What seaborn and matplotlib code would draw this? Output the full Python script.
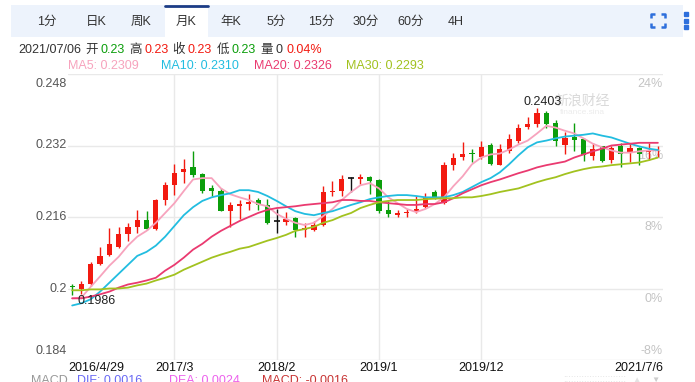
import matplotlib
matplotlib.use("Agg")
import matplotlib.pyplot as plt
from matplotlib.patches import Rectangle
import seaborn as sns
import pandas as pd

sns.set_style("white")
plt.rcParams['font.family'] = ['Liberation Sans', 'Noto Sans CJK SC', 'DejaVu Sans']

# monthly candles, 2016/4 .. 2021/7
opens = [0.2006, 0.2000, 0.2009, 0.2055, 0.2074, 0.2093, 0.2122, 0.2137, 0.2153, 0.2133,
         0.2198, 0.2231, 0.2260, 0.2273, 0.2256, 0.2224, 0.2218, 0.2174, 0.2184, 0.2190,
         0.2198, 0.2186, 0.2151, 0.2148, 0.2157, 0.2130, 0.2130, 0.2142, 0.2216, 0.2219,
         0.2248, 0.2245, 0.2250, 0.2242, 0.2176, 0.2164, 0.2168, 0.2172, 0.2182, 0.2215,
         0.2192, 0.2276, 0.2295, 0.2303, 0.2294, 0.2320, 0.2277, 0.2308, 0.2329, 0.2361,
         0.2368, 0.2393, 0.2370, 0.2322, 0.2340, 0.2335, 0.2296, 0.2318, 0.2287, 0.2318,
         0.2303, 0.2314, 0.2305, 0.2309]
highs = [0.2011, 0.2017, 0.2060, 0.2093, 0.2136, 0.2137, 0.2147, 0.2176, 0.2174, 0.2201,
         0.2239, 0.2278, 0.2290, 0.2307, 0.2259, 0.2232, 0.2224, 0.2193, 0.2198, 0.2211,
         0.2203, 0.2201, 0.2179, 0.2172, 0.2159, 0.2146, 0.2150, 0.2229, 0.2241, 0.2255,
         0.2249, 0.2256, 0.2252, 0.2246, 0.2196, 0.2176, 0.2178, 0.2207, 0.2213, 0.2220,
         0.2282, 0.2303, 0.2327, 0.2313, 0.2329, 0.2326, 0.2324, 0.2346, 0.2369, 0.2383,
         0.2403, 0.2398, 0.2376, 0.2350, 0.2370, 0.2336, 0.2326, 0.2318, 0.2320, 0.2325,
         0.2325, 0.2316, 0.2326, 0.2318]
lows = [0.1986, 0.1988, 0.2005, 0.2052, 0.2072, 0.2090, 0.2107, 0.2124, 0.2131, 0.2131,
        0.2187, 0.2210, 0.2235, 0.2250, 0.2213, 0.2207, 0.2174, 0.2138, 0.2155, 0.2176,
        0.2176, 0.2144, 0.2125, 0.2142, 0.2115, 0.2115, 0.2128, 0.2140, 0.2207, 0.2207,
        0.2215, 0.2233, 0.2212, 0.2170, 0.2161, 0.2159, 0.2159, 0.2170, 0.2180, 0.2200,
        0.2190, 0.2266, 0.2288, 0.2283, 0.2290, 0.2276, 0.2276, 0.2304, 0.2325, 0.2356,
        0.2362, 0.2359, 0.2320, 0.2300, 0.2307, 0.2285, 0.2288, 0.2283, 0.2281, 0.2273,
        0.2283, 0.2277, 0.2287, 0.2294]
closes = [0.2004, 0.2009, 0.2055, 0.2073, 0.2100, 0.2122, 0.2137, 0.2153, 0.2133, 0.2198,
          0.2231, 0.2259, 0.2268, 0.2253, 0.2218, 0.2218, 0.2174, 0.2187, 0.2189, 0.2194,
          0.2186, 0.2147, 0.2151, 0.2155, 0.2130, 0.2135, 0.2142, 0.2216, 0.2218, 0.2246,
          0.2248, 0.2250, 0.2241, 0.2174, 0.2166, 0.2170, 0.2172, 0.2179, 0.2205, 0.2204,
          0.2276, 0.2293, 0.2300, 0.2300, 0.2316, 0.2278, 0.2313, 0.2335, 0.2359, 0.2368,
          0.2392, 0.2367, 0.2331, 0.2336, 0.2333, 0.2298, 0.2313, 0.2285, 0.2315, 0.2300,
          0.2315, 0.2302, 0.2310, 0.2310]

ma5 = [0.1978, 0.1980, 0.2004, 0.2027, 0.2051, 0.2071, 0.2096, 0.2116, 0.2129, 0.2147,
       0.2169, 0.2191, 0.2218, 0.2244, 0.2247, 0.2247, 0.2224, 0.2211, 0.2204, 0.2198,
       0.2189, 0.2184, 0.2167, 0.2156, 0.2147, 0.2142, 0.2147, 0.2162, 0.2178, 0.2198,
       0.2216, 0.2231, 0.2236, 0.2224, 0.2204, 0.2191, 0.2178, 0.2171, 0.2178, 0.2189,
       0.2204, 0.2229, 0.2251, 0.2278, 0.2293, 0.2300, 0.2302, 0.2311, 0.2322, 0.2331,
       0.2347, 0.2364, 0.2360, 0.2353, 0.2347, 0.2336, 0.2324, 0.2316, 0.2309, 0.2304,
       0.2304, 0.2307, 0.2309, 0.2309]
ma10 = [0.1962, 0.1967, 0.1976, 0.1993, 0.2013, 0.2033, 0.2053, 0.2073, 0.2082, 0.2096,
        0.2116, 0.2140, 0.2164, 0.2182, 0.2196, 0.2204, 0.2209, 0.2213, 0.2220, 0.2220,
        0.2216, 0.2207, 0.2196, 0.2184, 0.2173, 0.2167, 0.2164, 0.2169, 0.2173, 0.2180,
        0.2187, 0.2193, 0.2200, 0.2204, 0.2207, 0.2209, 0.2209, 0.2207, 0.2204, 0.2204,
        0.2204, 0.2209, 0.2216, 0.2227, 0.2238, 0.2247, 0.2260, 0.2278, 0.2298, 0.2316,
        0.2327, 0.2331, 0.2336, 0.2340, 0.2342, 0.2344, 0.2347, 0.2342, 0.2338, 0.2331,
        0.2324, 0.2318, 0.2313, 0.2310]
ma20 = [0.1978, 0.1978, 0.1982, 0.1987, 0.1993, 0.2002, 0.2009, 0.2013, 0.2018, 0.2024,
        0.2040, 0.2053, 0.2069, 0.2087, 0.2100, 0.2116, 0.2129, 0.2140, 0.2151, 0.2160,
        0.2169, 0.2176, 0.2180, 0.2182, 0.2184, 0.2187, 0.2189, 0.2191, 0.2193, 0.2198,
        0.2198, 0.2196, 0.2196, 0.2193, 0.2191, 0.2189, 0.2187, 0.2187, 0.2189, 0.2189,
        0.2193, 0.2202, 0.2213, 0.2222, 0.2231, 0.2238, 0.2244, 0.2251, 0.2258, 0.2264,
        0.2271, 0.2276, 0.2280, 0.2284, 0.2293, 0.2300, 0.2307, 0.2313, 0.2320, 0.2322,
        0.2324, 0.2326, 0.2326, 0.2326]
ma30 = [0.1996, 0.1996, 0.1998, 0.1998, 0.2000, 0.2000, 0.2002, 0.2007, 0.2011, 0.2018,
        0.2024, 0.2031, 0.2042, 0.2051, 0.2060, 0.2069, 0.2076, 0.2082, 0.2089, 0.2093,
        0.2100, 0.2107, 0.2113, 0.2120, 0.2129, 0.2133, 0.2138, 0.2147, 0.2153, 0.2162,
        0.2169, 0.2180, 0.2187, 0.2193, 0.2196, 0.2198, 0.2198, 0.2198, 0.2200, 0.2201,
        0.2202, 0.2202, 0.2204, 0.2204, 0.2207, 0.2211, 0.2216, 0.2220, 0.2224, 0.2231,
        0.2238, 0.2244, 0.2249, 0.2256, 0.2262, 0.2267, 0.2271, 0.2273, 0.2276, 0.2278,
        0.2280, 0.2282, 0.2287, 0.2293]

tick_idx = [0, 11, 22, 33, 44, 63]
tick_labels = ["2016/4/29", "2017/3", "2018/2", "2019/1", "2019/12", "2021/7/6"]
y_ticks = [0.184, 0.2, 0.216, 0.232, 0.248]
y_labels = ["0.184", "0.2", "0.216", "0.232", "0.248"]
pct_labels = ["-8%", "0%", "8%", "16%", "24%"]
tabs = ["1分", "日K", "周K", "月K", "年K", "5分", "15分", "30分", "60分", "4H"]

RED, GREEN = "#f21a10", "#0b9e0b"
ma_colors = {"MA5": "#f7a3bd", "MA10": "#22bde0", "MA20": "#ea3a70", "MA30": "#a2c21f"}

W, H = 695, 382
fig = plt.figure(figsize=(W / 100, H / 100), dpi=100)

# overlay axes in pixel coordinates for the header stuff
ov = fig.add_axes([0, 0, 1, 1], zorder=0)
ov.set_xlim(0, W)
ov.set_ylim(H, 0)
ov.axis("off")

ax = fig.add_axes([68 / W, 1 - 360 / H, (663 - 68) / W, (360 - 74) / H], zorder=1)
ax.patch.set_alpha(0)

# tab bar
ov.add_patch(Rectangle((11, 5), 672, 32, color="#edf3fc", lw=0))
ov.add_patch(Rectangle((165, 5), 43, 32, color="white", lw=0))
ov.plot([165, 208], [6, 6], color="#1c3c86", lw=2)
tab_x = [47, 96, 141, 186, 231, 276, 321, 366, 411, 456]
for tx, name in zip(tab_x, tabs):
    ov.text(tx, 22, name, ha="center", va="center", fontsize=9, color="#333333")
# fullscreen icon + menu dots
for cx, cy, dx, dy in [(651, 14, 1, 1), (665, 14, -1, 1), (651, 27, 1, -1), (665, 27, -1, -1)]:
    ov.plot([cx, cx, cx + 4 * dx], [cy + 4 * dy, cy, cy], color="#2e6fdc", lw=1.8,
            solid_capstyle="butt")
for dy in [14, 20.5, 27]:
    ov.plot([686], [dy], marker="s", ms=2.2, color="#2e6fdc")

renderer = fig.canvas.get_renderer()


def flow(x, y, pieces, size=9):
    for s, col, gap in pieces:
        t = ov.text(x, y, s, color=col, fontsize=size, ha="left", va="center")
        x += t.get_window_extent(renderer).width + gap


dark = "#333333"
flow(18, 50, [("2021/07/06", dark, 4), ("开", dark, 3), ("0.23", GREEN, 4),
              ("高", dark, 3), ("0.23", RED, 4), ("收", dark, 3), ("0.23", RED, 4),
              ("低", dark, 3), ("0.23", GREEN, 4), ("量", dark, 3), ("0", dark, 4),
              ("0.04%", RED, 0)])
for xx, (name, val) in zip([68, 161, 254, 346],
                           [("MA5", ma5[-1]), ("MA10", ma10[-1]), ("MA20", ma20[-1]), ("MA30", ma30[-1])]):
    ov.text(xx, 66, f"{name}: {val:.4f}", color=ma_colors[name], fontsize=9, ha="left", va="center")

# MACD line at the bottom (cut off by the edge, as in the page)
flow(31, 381, [("MACD", "#999999", 9), ("DIF: 0.0016", "#6a6af4", 27),
               ("DEA: 0.0024", "#ec62ec", 22), ("MACD: -0.0016", "#c83434", 0)])
ov.text(595, 379, "::::::::::::::::::::::::", color="#dddddd", fontsize=7, ha="center", va="center")
ov.text(636, 380, "▲", color="#e3e3e3", fontsize=6, ha="center", va="center")
ov.text(655, 380, "▼", color="#cccccc", fontsize=6, ha="center", va="center")

# candles
idx = list(range(len(opens)))
for i, o, h, l, c in zip(idx, opens, highs, lows, closes):
    col = RED if c > o else (GREEN if c < o else "#111111")
    ax.vlines(i, l, h, color=col, lw=1, zorder=2)
    if c == o:
        ax.hlines(c, i - 0.3, i + 0.3, color=col, lw=1.2, zorder=2)
    else:
        ax.bar(i, abs(c - o), bottom=min(o, c), width=0.56, color=col, lw=0, zorder=2)

# moving averages
ma_df = pd.DataFrame({"idx": idx * 4,
                      "value": ma5 + ma10 + ma20 + ma30,
                      "ma": ["MA5"] * 64 + ["MA10"] * 64 + ["MA20"] * 64 + ["MA30"] * 64})
sns.lineplot(data=ma_df, x="idx", y="value", hue="ma", palette=ma_colors, legend=False,
             lw=1.3, ax=ax, zorder=3)

ax.set_xlim(-0.45, 63.55)
ax.set_ylim(0.184, 0.248)
ax.set_yticks(y_ticks)
ax.set_xticks(tick_idx[1:-1])
ax.grid(True, color="#e9e9e9", lw=1, zorder=0)
ax.set_axisbelow(True)
ax.tick_params(length=0, labelleft=False, labelbottom=False)
ax.set_xlabel("")
ax.set_ylabel("")
for sp in ["top", "left", "right", "bottom"]:
    ax.spines[sp].set_visible(False)

ytr = ax.get_yaxis_transform()
for k, (yv, lab, pct) in enumerate(zip(y_ticks, y_labels, pct_labels)):
    va = "bottom" if k == 0 else ("top" if k == len(y_ticks) - 1 else "center")
    dy = 2 if k == 0 else (-3 if k == len(y_ticks) - 1 else 0)
    ax.annotate(lab, (0, yv), xycoords=ytr, xytext=(-1, dy), textcoords="offset points",
                ha="right", va=va, fontsize=9, color="#555555")
    ax.annotate(pct, (1, yv), xycoords=ytr, xytext=(0, 2 if k == 0 else -3),
                textcoords="offset points", ha="right", va="bottom" if k == 0 else "top",
                fontsize=9, color="#c4c4c4", zorder=1)

xtr = ax.get_xaxis_transform()
for k, (ti, lab) in enumerate(zip(tick_idx, tick_labels)):
    if k == 0:
        xpos, ha = -0.45, "left"
    elif k == len(tick_idx) - 1:
        xpos, ha = 63.55, "right"
    else:
        xpos, ha = ti, "center"
    ax.text(xpos, -0.008, lab, transform=xtr, ha=ha, va="top", fontsize=9, color="#111111")

# high / low markers
ax.annotate(f"{max(highs):.4f}", (highs.index(max(highs)), max(highs)), xytext=(4, 0.5),
            textcoords="offset points", ha="center", va="bottom", fontsize=9, color="#222222",
            zorder=5)
ax.annotate(f"{min(lows):.4f}", (lows.index(min(lows)), min(lows)), xytext=(3.5, -0.5),
            textcoords="offset points", ha="left", va="top", fontsize=9, color="#222222",
            zorder=5)

# watermark
ov.text(582, 101, "新浪财经", color="#d9d9d9", fontsize=10, ha="center", va="center", zorder=0)
ov.text(582, 112, "finance.sina", color="#ececec", fontsize=6, ha="center", va="center", zorder=0)

fig.savefig("out.png", dpi=100)
